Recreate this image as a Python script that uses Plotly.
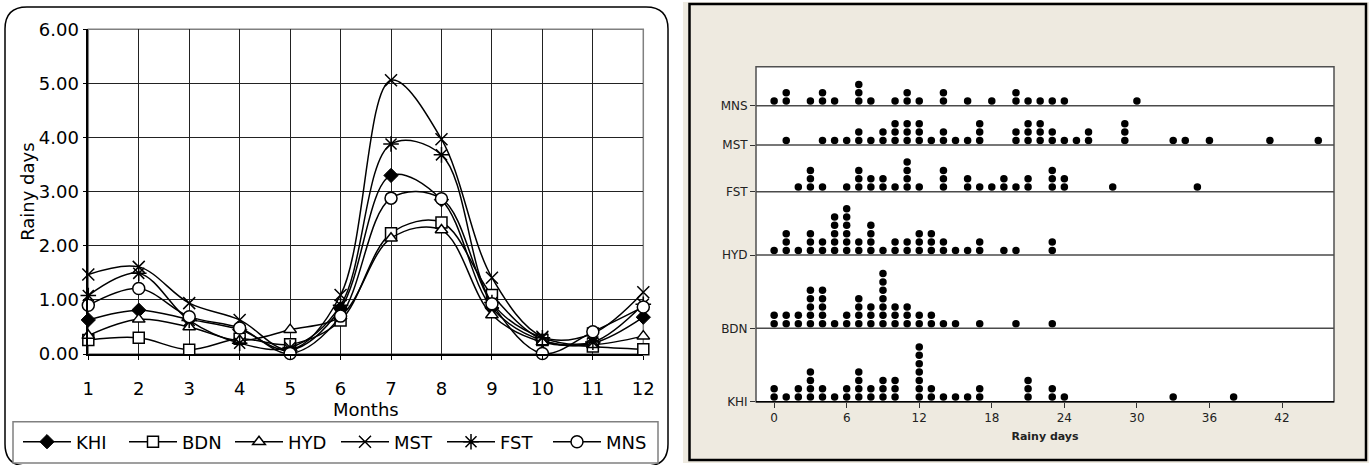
import plotly.graph_objects as go

W, H = 1372, 465


def PX(x):
    return x / W


def PY(y):
    return 1 - y / H


# ---------------- Left chart: monthly mean rainy days ----------------
months = list(range(1, 13))
KHI = [0.63, 0.81, 0.64, 0.45, 0.07, 0.84, 3.30, 2.85, 0.85, 0.25, 0.20, 0.68]
BDN = [0.26, 0.30, 0.08, 0.28, 0.18, 0.62, 2.23, 2.43, 1.09, 0.26, 0.14, 0.09]
HYD = [0.34, 0.64, 0.50, 0.25, 0.45, 0.70, 2.14, 2.29, 0.72, 0.22, 0.17, 0.33]
MST = [1.47, 1.61, 0.94, 0.63, 0.08, 1.09, 5.06, 3.97, 1.41, 0.32, 0.38, 1.14]
FST = [1.08, 1.49, 0.62, 0.20, 0.12, 0.90, 3.88, 3.68, 0.95, 0.30, 0.22, 0.92]
MNS = [0.90, 1.21, 0.69, 0.48, 0.01, 0.70, 2.88, 2.87, 0.93, 0.01, 0.41, 0.87]
y_ticks = [0, 1, 2, 3, 4, 5, 6]

# ---------------- Right chart: dot plot of annual rainy days ----------------
station_order = ["KHI", "BDN", "HYD", "FST", "MST", "MNS"]
KHI_days = [0, 1, 2, 3, 4, 5, 6, 7, 8, 9, 10, 12, 13, 14, 15, 16, 17, 21, 23, 24, 33, 38]
KHI_cnt = [2, 1, 2, 4, 2, 1, 2, 4, 2, 3, 3, 7, 2, 1, 1, 1, 2, 3, 2, 1, 1, 1]
BDN_days = [0, 1, 2, 3, 4, 5, 6, 7, 8, 9, 10, 11, 12, 13, 14, 15, 17, 20, 23]
BDN_cnt = [2, 2, 2, 5, 5, 1, 2, 4, 3, 7, 3, 3, 2, 2, 1, 1, 1, 1, 1]
HYD_days = [0, 1, 2, 3, 4, 5, 6, 7, 8, 9, 10, 11, 12, 13, 14, 15, 16, 17, 19, 20, 23]
HYD_cnt = [1, 3, 1, 3, 2, 5, 6, 2, 4, 1, 2, 2, 3, 3, 2, 1, 1, 2, 1, 1, 2]
FST_days = [2, 3, 4, 6, 7, 8, 9, 10, 11, 12, 14, 16, 17, 18, 19, 20, 21, 23, 24, 28, 35]
FST_cnt = [1, 3, 1, 1, 3, 2, 2, 1, 4, 1, 3, 2, 1, 1, 2, 1, 2, 3, 2, 1, 1]
MST_days = [1, 4, 5, 6, 7, 8, 9, 10, 11, 12, 13, 14, 15, 16, 17, 20, 21, 22, 23, 24, 25, 26, 29, 33, 34, 36, 41, 45]
MST_cnt = [1, 1, 1, 1, 2, 1, 2, 3, 3, 3, 1, 2, 1, 1, 3, 2, 3, 3, 2, 1, 1, 2, 3, 1, 1, 1, 1, 1]
MNS_days = [0, 1, 3, 4, 5, 7, 8, 10, 11, 12, 14, 16, 18, 20, 21, 22, 23, 24, 30]
MNS_cnt = [1, 2, 1, 2, 1, 3, 1, 1, 2, 1, 2, 1, 1, 2, 1, 1, 1, 1, 1]
x2_ticks = [0, 6, 12, 18, 24, 30, 36, 42]

# layout of the dot plot rows (pixel heights above the bottom of the plot area)
row_base = {"KHI": 0.0, "BDN": 73.4, "HYD": 146.7, "FST": 210.0, "MST": 256.7, "MNS": 296.0}
DOT_OFF, DOT_STEP = 4.6, 8.35

FONT_L = "DejaVu Sans"
FONT_R = "DejaVu Sans"

fig = go.Figure()

line_series = [
    ("KHI", KHI, dict(symbol="diamond", size=11, color="black", line=dict(color="black", width=1))),
    ("BDN", BDN, dict(symbol="square", size=11, color="white", line=dict(color="black", width=1.5))),
    ("HYD", HYD, dict(symbol="triangle-up", size=11, color="white", line=dict(color="black", width=1.5))),
    ("MST", MST, dict(symbol="x-thin", size=12, color="black", line=dict(color="black", width=1.5))),
    ("FST", FST, dict(symbol="asterisk", size=13, color="black", line=dict(color="black", width=1.5))),
    ("MNS", MNS, dict(symbol="circle", size=12, color="white", line=dict(color="black", width=1.5))),
]
for name, vals, mk in line_series:
    fig.add_trace(go.Scatter(
        x=months, y=vals, name=name, mode="lines+markers",
        line=dict(color="black", width=1.5, shape="spline", smoothing=1),
        marker=mk, xaxis="x", yaxis="y", cliponaxis=False,
    ))

dot_data = {
    "KHI": (KHI_days, KHI_cnt),
    "BDN": (BDN_days, BDN_cnt),
    "HYD": (HYD_days, HYD_cnt),
    "FST": (FST_days, FST_cnt),
    "MST": (MST_days, MST_cnt),
    "MNS": (MNS_days, MNS_cnt),
}
for st in station_order:
    days, cnt = dot_data[st]
    xs, ys = [], []
    for d, c in zip(days, cnt):
        for k in range(c):
            xs.append(d)
            ys.append(row_base[st] + DOT_OFF + DOT_STEP * k)
    fig.add_trace(go.Scatter(
        x=xs, y=ys, mode="markers", showlegend=False, name=st,
        marker=dict(symbol="circle", size=7.5, color="black", line=dict(width=0)),
        xaxis="x2", yaxis="y2", cliponaxis=False,
    ))

# left plot area
L_x0, L_x1, L_y0, L_y1 = 88.3, 643.3, 29.3, 354.0
# right plot area
R_x0, R_x1, R_y0, R_y1 = 756.0, 1334.0, 66.7, 401.7

shapes = []
# left panel rounded frame
r = 22
fx0, fx1, fy0, fy1 = 5, 668, 7, 466
path = (f"M {PX(fx0)},{PY(fy0 + r)} Q {PX(fx0)},{PY(fy0)} {PX(fx0 + r)},{PY(fy0)} "
        f"L {PX(fx1 - r)},{PY(fy0)} Q {PX(fx1)},{PY(fy0)} {PX(fx1)},{PY(fy0 + r)} "
        f"L {PX(fx1)},{PY(fy1 - r)} Q {PX(fx1)},{PY(fy1)} {PX(fx1 - r)},{PY(fy1)} "
        f"L {PX(fx0 + r)},{PY(fy1)} Q {PX(fx0)},{PY(fy1)} {PX(fx0)},{PY(fy1 - r)} Z")
shapes.append(dict(type="path", path=path, xref="paper", yref="paper",
                   line=dict(color="black", width=1.5), fillcolor="white", layer="below"))
# left plot-area background + gray top/right border
shapes.append(dict(type="rect", xref="paper", yref="paper",
                   x0=PX(L_x0), x1=PX(L_x1), y0=PY(L_y1), y1=PY(L_y0),
                   line=dict(color="#808080", width=1.5), fillcolor="white", layer="below"))
# legend box
shapes.append(dict(type="rect", xref="paper", yref="paper",
                   x0=PX(13), x1=PX(658), y0=PY(463), y1=PY(421.7),
                   line=dict(color="#808080", width=1.5), fillcolor="white", layer="below"))
# right panel beige background and frame
shapes.append(dict(type="rect", xref="paper", yref="paper",
                   x0=PX(683), x1=PX(1369), y0=PY(463), y1=PY(2),
                   line=dict(width=0), fillcolor="#EEEAE0", layer="below"))
shapes.append(dict(type="rect", xref="paper", yref="paper",
                   x0=PX(689.5), x1=PX(1366), y0=PY(460), y1=PY(4),
                   line=dict(color="black", width=2.5), fillcolor="rgba(0,0,0,0)", layer="below"))
# right plot area
shapes.append(dict(type="rect", xref="paper", yref="paper",
                   x0=PX(R_x0), x1=PX(R_x1), y0=PY(R_y1), y1=PY(R_y0),
                   line=dict(color="#505050", width=1.5), fillcolor="white", layer="below"))
for st in station_order:
    if row_base[st] > 0:
        shapes.append(dict(type="line", xref="x2 domain", yref="y2",
                           x0=0, x1=1, y0=row_base[st], y1=row_base[st],
                           line=dict(color="#4a4a4a", width=1.5), layer="above"))
shapes.append(dict(type="line", xref="paper", yref="paper",
                   x0=PX(R_x0), x1=PX(R_x1), y0=PY(R_y1), y1=PY(R_y1),
                   line=dict(color="black", width=1.5), layer="above"))

fig.update_layout(
    template="none",
    width=W, height=H, autosize=False,
    margin=dict(l=0, r=0, t=0, b=0, pad=0),
    paper_bgcolor="white", plot_bgcolor="rgba(0,0,0,0)",
    shapes=shapes,
    showlegend=True,
    legend=dict(
        orientation="h", x=PX(18), y=PY(442), xanchor="left", yanchor="middle",
        bgcolor="rgba(0,0,0,0)", borderwidth=0,
        font=dict(family=FONT_L, size=18, color="black"),
        entrywidth=43, entrywidthmode="pixels", itemwidth=48,
    ),
    xaxis=dict(
        domain=[PX(L_x0), PX(L_x1)], range=[1, 12], anchor="y", automargin=False,
        tickvals=months, ticks="outside", ticklen=4, tickcolor="black",
        showline=True, linecolor="black", linewidth=1.5,
        showgrid=True, gridcolor="#222222", gridwidth=1, zeroline=False,
        tickfont=dict(family=FONT_L, size=18, color="black"),
        ticklabelstandoff=14,
        title=dict(text="Months", font=dict(family=FONT_L, size=18, color="black"), standoff=0),
    ),
    yaxis=dict(
        domain=[PY(L_y1), PY(L_y0)], range=[0, 6], anchor="x", automargin=False,
        tickvals=y_ticks, tickformat=".2f", ticks="outside", ticklen=4, tickcolor="black",
        showline=True, linecolor="black", linewidth=1.5,
        showgrid=True, gridcolor="#222222", gridwidth=1, zeroline=False,
        tickfont=dict(family=FONT_L, size=18, color="black"),
        title=dict(text="Rainy days", font=dict(family=FONT_L, size=18, color="black"), standoff=0),
    ),
    xaxis2=dict(
        domain=[PX(R_x0), PX(R_x1)], range=[-1.5, 46.3], anchor="y2", automargin=False,
        tickvals=x2_ticks, ticks="outside", ticklen=5, tickcolor="#333333",
        showline=False, showgrid=False, zeroline=False,
        tickfont=dict(family=FONT_R, size=12, color="#222222"),
        title=dict(text="<b>Rainy days</b>", font=dict(family=FONT_R, size=11, color="#222222"), standoff=8),
    ),
    yaxis2=dict(
        domain=[PY(R_y1), PY(R_y0)], range=[0, R_y1 - R_y0], anchor="x2", automargin=False,
        tickvals=[row_base[s] for s in station_order], ticktext=station_order,
        ticks="outside", ticklen=5, tickcolor="#333333",
        showline=False, showgrid=False, zeroline=False,
        tickfont=dict(family=FONT_R, size=12, color="#222222"),
    ),
)

fig.write_html("out.html")
